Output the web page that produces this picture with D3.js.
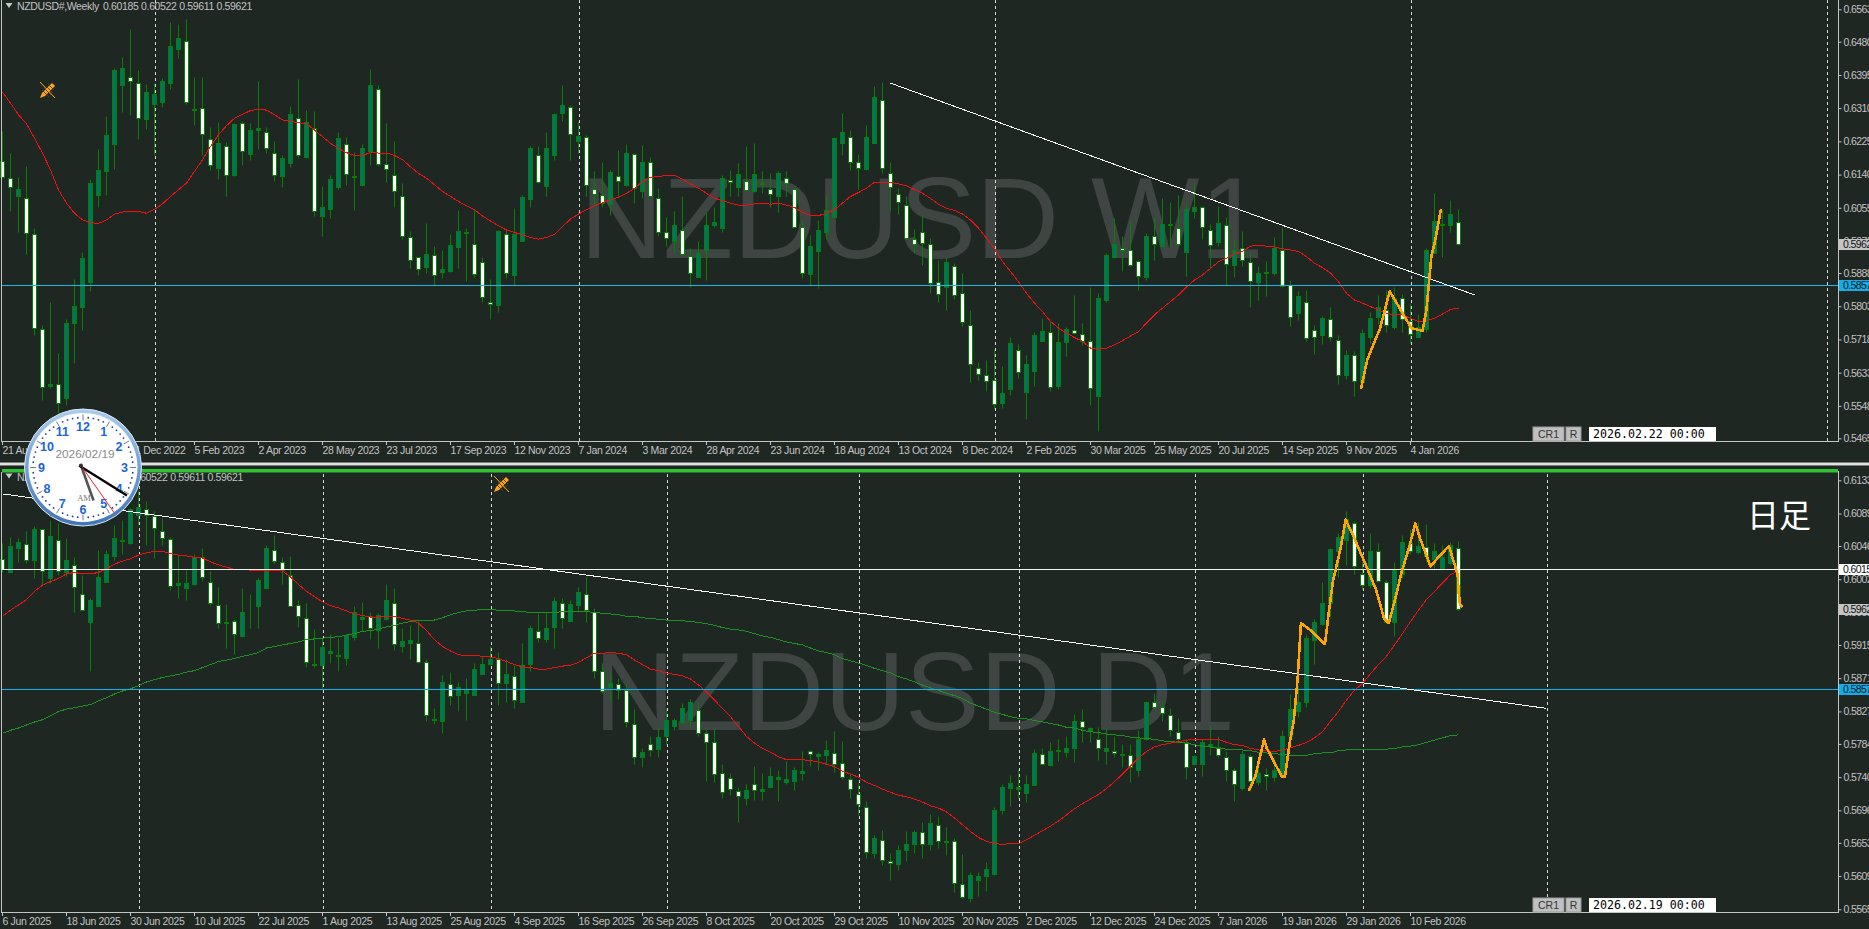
<!DOCTYPE html>
<html><head><meta charset="utf-8">
<script src="https://cdn.jsdelivr.net/npm/d3@7/dist/d3.min.js"></script>
<style>
html,body{margin:0;padding:0;background:#1f2723;overflow:hidden}
svg{display:block}
text{font-family:"Liberation Sans",Arial,sans-serif}
.lbl{font-size:10.5px;letter-spacing:-.35px;fill:#c2c2c2}
.plbl{font-size:10.5px;letter-spacing:-.6px;fill:#c2c2c2}
</style></head><body>
<script>
// all prices are in pips (price x 10000)
const wOpen=[6176,6131,6084,6079,5987,5746,5598,5603,5567,5760,5802,5864,6087,6150,6218,6370,6390,6375,6282,6320,6326,6375,6462,6483,6305,6311,6230,6156,6212,6138,6271,6192,6253,6248,6196,6136,6169,6286,6186,6258,6035,6053,6109,6219,6133,6113,6201,6360,6166,6140,6084,5981,5928,5903,5933,5890,5892,5954,5994,5963,5915,5815,5807,5989,5882,5969,6077,6189,6112,6191,6297,6314,6226,6235,6103,6088,6064,6137,6113,6192,6098,6173,6081,5992,5970,5998,5932,5879,5947,6010,6004,6125,6108,6124,6097,6117,6104,6084,6130,6103,6006,5885,5944,5994,6031,6222,6235,6171,6154,6222,6332,6145,6089,6063,5976,5994,5963,5864,5851,5907,5836,5756,5646,5628,5614,5555,5591,5692,5583,5636,5715,5738,5598,5711,5743,5733,5715,5574,5818,5930,5952,5946,5920,5879,5983,5958,6011,6002,5943,6048,6056,5999,5967,6010,5908,5953,5917,5864,5888,5889,5948,5858,5785,5814,5741,5729,5771,5717,5627,5677,5608,5724,5775,5794,5749,5823,5764,5725,5744,5939,6011,6010,6018];
const wClose=[6133,6108,6102,5990,5747,5596,5604,5555,5760,5803,5926,6118,6151,6241,6408,6412,6380,6284,6351,6346,6379,6468,6489,6325,6307,6243,6164,6220,6139,6270,6201,6253,6259,6208,6139,6182,6294,6190,6274,6047,6058,6128,6233,6141,6136,6207,6369,6166,6155,6098,5983,5922,5899,5936,5883,5898,5959,5995,5990,5885,5827,5808,5995,5888,5988,6082,6207,6120,6207,6294,6317,6243,6238,6114,6091,6068,6146,6124,6195,6105,6173,6085,5992,5977,6010,5937,5888,5939,6010,6018,6132,6120,6141,6101,6141,6119,6090,6143,6119,6007,5888,5956,5998,6050,6233,6248,6172,6156,6236,6338,6156,6108,6069,5977,5962,5964,5862,5835,5916,5832,5762,5655,5629,5612,5552,5582,5708,5635,5656,5729,5739,5596,5711,5744,5734,5714,5593,5824,5933,5962,5946,5909,5881,5982,5962,6013,6014,5962,6051,6056,6006,5960,6015,5911,5948,5922,5868,5889,5891,5952,5855,5776,5830,5722,5725,5772,5725,5627,5679,5612,5734,5774,5802,5755,5825,5771,5732,5751,5946,6020,6014,6038,5962];
const wHigh=[6252,6195,6135,6162,6003,5755,5813,5683,5771,5872,5941,6128,6205,6290,6412,6442,6513,6408,6372,6374,6387,6531,6526,6538,6389,6389,6263,6274,6224,6273,6276,6271,6380,6263,6225,6190,6316,6385,6306,6303,6111,6138,6248,6236,6199,6219,6410,6369,6271,6226,6118,5996,5930,6015,5958,5946,5988,6050,6003,6051,5930,5872,5998,6000,6054,6088,6212,6212,6248,6297,6369,6318,6277,6242,6148,6172,6152,6203,6219,6195,6216,6184,6105,6031,6047,6084,5952,5969,6045,6058,6139,6152,6169,6213,6220,6148,6143,6148,6150,6105,6026,5985,6024,6084,6236,6297,6254,6193,6267,6367,6378,6172,6105,6084,6000,6037,5977,5922,5930,5913,5888,5794,5660,5666,5693,5651,5725,5706,5679,5738,5772,5764,5760,5751,5832,5761,5852,5838,5939,6028,5983,6020,5922,5990,6031,6079,6071,6088,6067,6122,6060,6014,6060,6031,5973,5996,5941,5906,5919,5980,6007,5870,5842,5845,5755,5778,5801,5730,5691,5689,5745,5787,5832,5845,5852,5835,5812,5783,5952,6094,6051,6075,6052];
const wLow=[6133,6047,5994,5937,5730,5563,5593,5529,5551,5657,5741,5841,6056,6088,6154,6299,6293,6230,6256,6189,6312,6358,6438,6321,6267,6190,6152,6129,6084,6137,6165,6178,6206,6195,6124,6109,6160,6186,6182,6033,5984,6028,6103,6114,6050,6111,6165,6163,6120,6058,5975,5900,5883,5888,5858,5875,5891,5900,5868,5879,5815,5771,5787,5876,5858,5969,6058,6118,6084,6178,6278,6178,6195,6085,6062,6058,6037,6084,6111,6068,6079,6082,5984,5956,5939,5932,5852,5877,5870,6007,5992,6084,6084,6101,6095,6092,6056,6045,6084,6005,5876,5858,5849,5975,6028,6189,6152,6103,6152,6220,6143,6048,6039,5975,5939,5909,5836,5815,5794,5821,5753,5608,5613,5585,5540,5542,5576,5619,5515,5599,5715,5585,5592,5676,5734,5704,5551,5484,5815,5926,5892,5905,5845,5870,5922,5957,5956,5956,5881,6028,5975,5900,5956,5858,5879,5907,5800,5818,5830,5882,5852,5753,5768,5715,5681,5707,5713,5604,5616,5574,5593,5710,5757,5737,5744,5738,5710,5724,5738,5939,5928,5992,5961];
const wMA=[6351,6323,6293,6270,6233,6195,6152,6101,6067,6041,6024,6017,6015,6024,6039,6044,6046,6046,6041,6051,6065,6084,6101,6118,6148,6178,6212,6242,6265,6284,6294,6304,6307,6305,6293,6280,6276,6273,6270,6254,6237,6220,6207,6196,6189,6188,6197,6195,6195,6189,6178,6160,6143,6131,6114,6097,6084,6071,6060,6050,6034,6021,6009,5998,5992,5986,5979,5975,5979,5987,6007,6026,6039,6050,6060,6068,6075,6082,6092,6105,6122,6133,6135,6138,6138,6128,6116,6105,6092,6079,6073,6067,6062,6062,6065,6067,6064,6067,6062,6056,6043,6036,6035,6041,6050,6067,6084,6094,6105,6120,6120,6120,6116,6111,6102,6092,6079,6064,6054,6048,6039,6024,6003,5977,5951,5917,5892,5866,5836,5811,5789,5764,5747,5734,5723,5713,5696,5696,5696,5704,5715,5727,5738,5760,5781,5798,5815,5832,5852,5870,5883,5900,5917,5926,5937,5943,5957,5958,5957,5955,5950,5947,5943,5930,5913,5902,5888,5866,5836,5819,5811,5802,5794,5785,5781,5781,5772,5764,5766,5772,5783,5795,5798];
const wZigIdx=[169.8,170.6,172.2,173.4,174.9,176.1,177.5,178,178.6,179.1,179.8];
const wZigVal=[5591,5666,5747,5841,5789,5747,5740,5794,5930,5973,6051];
const wTrendIdx=[111,184];
const wTrendVal=[6374,5832];
const wLevels=[5857];
const wGrid=[19,72,124,176,228];
const wTicks=["21 Aug 2022","16 Oct 2022","11 Dec 2022","5 Feb 2023","2 Apr 2023","28 May 2023","23 Jul 2023","17 Sep 2023","12 Nov 2023","7 Jan 2024","3 Mar 2024","28 Apr 2024","23 Jun 2024","18 Aug 2024","13 Oct 2024","8 Dec 2024","2 Feb 2025","30 Mar 2025","25 May 2025","20 Jul 2025","14 Sep 2025","9 Nov 2025","4 Jan 2026"];
const wPrices=[6563,6480,6395,6310,6225,6140,6055,5970,5888,5803,5718,5633,5548,5465];

const dOpen=[6029,6012,6043,6048,6027,6068,6003,6054,6012,6021,5982,5945,5967,5999,6033,6052,6050,6087,6095,6086,6066,6055,5994,5991,5996,6031,5999,5968,5944,5947,5927,5966,5967,5991,6041,6025,6008,5968,5951,5890,5888,5905,5902,5898,5925,5950,5953,5935,5950,5971,5913,5918,5918,5893,5816,5814,5863,5849,5851,5849,5877,5890,5897,5864,5874,5839,5890,5934,5923,5939,5970,5947,5968,5982,5959,5880,5859,5863,5855,5811,5767,5784,5777,5794,5808,5813,5815,5829,5798,5786,5745,5739,5722,5712,5731,5721,5727,5737,5734,5735,5746,5774,5768,5769,5772,5759,5738,5718,5701,5640,5657,5629,5625,5643,5652,5667,5651,5676,5654,5656,5599,5580,5604,5609,5612,5696,5726,5724,5719,5730,5771,5756,5774,5773,5778,5814,5803,5791,5774,5775,5769,5769,5749,5791,5839,5833,5822,5800,5787,5758,5758,5781,5780,5767,5749,5725,5768,5734,5744,5740,5741,5794,5828,5840,5921,5943,5971,6040,6054,6076,6009,5994,6039,5999,5946,6009,6050,6038,6045,6029,6017,6023,6044];
const dClose=[6015,6046,6051,6027,6068,6013,6059,6013,6027,5992,5961,5975,6005,6036,6056,6054,6095,6097,6087,6070,6057,5993,5997,5997,6032,6005,5970,5944,5945,5930,5958,5967,6001,6044,6026,6014,5967,5953,5893,5888,5912,5907,5900,5928,5959,5952,5938,5954,5974,5916,5920,5921,5892,5822,5817,5866,5847,5859,5857,5883,5890,5896,5864,5876,5842,5889,5938,5924,5938,5973,5951,5969,5985,5961,5881,5854,5864,5855,5813,5766,5773,5776,5793,5815,5815,5831,5840,5798,5786,5744,5720,5724,5715,5723,5723,5724,5742,5740,5737,5750,5748,5770,5771,5776,5758,5740,5724,5704,5641,5660,5630,5626,5643,5652,5667,5652,5679,5655,5656,5600,5581,5611,5609,5618,5696,5727,5732,5727,5731,5772,5758,5774,5776,5778,5814,5806,5805,5778,5779,5772,5771,5754,5791,5839,5833,5825,5802,5790,5753,5768,5786,5784,5769,5750,5731,5770,5735,5745,5741,5750,5795,5830,5840,5924,5946,5971,6042,6058,6082,6019,5995,6040,6000,5946,6014,6051,6040,6046,6033,6039,6031,6047,5962];
const dHigh=[6050,6058,6057,6066,6072,6069,6081,6076,6056,6032,6008,5977,6041,6041,6074,6081,6096,6120,6106,6092,6083,6058,6034,6014,6035,6043,6013,5992,5969,5950,5990,5983,6003,6047,6060,6031,6033,5975,5970,5936,5926,5930,5924,5930,5967,5972,5958,5957,5996,5990,5937,5942,5947,5897,5831,5875,5879,5866,5871,5891,5900,5913,5906,5897,5889,5917,5941,5957,5959,5979,5977,5975,5992,6005,5964,5891,5880,5871,5864,5830,5778,5795,5807,5831,5818,5838,5844,5841,5803,5805,5757,5745,5727,5731,5755,5745,5753,5750,5761,5754,5775,5776,5773,5789,5801,5788,5745,5734,5708,5664,5670,5640,5650,5669,5670,5681,5691,5688,5674,5659,5638,5614,5615,5628,5701,5731,5743,5751,5743,5777,5778,5787,5791,5795,5823,5830,5807,5807,5806,5794,5784,5784,5802,5841,5852,5842,5832,5818,5791,5769,5791,5809,5794,5774,5752,5776,5770,5754,5752,5765,5803,5850,5860,5930,5950,5999,6043,6063,6092,6079,6025,6063,6050,6001,6025,6060,6069,6078,6075,6050,6047,6051,6053];
const dLow=[6012,6011,6025,6023,6004,5994,5997,6008,6006,5958,5961,5881,5966,5998,6028,6036,6049,6074,6047,6030,6047,5988,5977,5975,5994,6000,5968,5937,5911,5903,5925,5938,5938,5989,6024,5996,5966,5939,5886,5886,5857,5891,5880,5889,5921,5933,5923,5911,5948,5908,5906,5897,5891,5814,5810,5799,5836,5827,5816,5849,5877,5889,5836,5839,5832,5839,5881,5919,5919,5911,5937,5947,5959,5946,5871,5852,5841,5844,5807,5758,5753,5768,5767,5784,5803,5811,5807,5795,5735,5733,5713,5716,5681,5703,5710,5710,5726,5708,5731,5723,5736,5755,5750,5757,5747,5738,5712,5690,5633,5633,5624,5604,5617,5629,5639,5633,5644,5646,5637,5588,5580,5575,5582,5589,5611,5691,5702,5712,5707,5729,5756,5755,5761,5766,5760,5787,5786,5763,5757,5766,5753,5734,5742,5789,5830,5814,5794,5787,5738,5756,5741,5769,5767,5735,5709,5723,5721,5729,5723,5735,5740,5792,5819,5833,5890,5942,5952,6005,6021,6009,5989,5991,5998,5944,5927,6003,6036,6036,6025,6014,6016,6021,5961];
const dMA=[5953,5961,5968,5975,5986,5994,5999,6003,6009,6011,6009,6009,6011,6016,6022,6026,6029,6034,6037,6039,6039,6036,6034,6033,6031,6030,6025,6021,6018,6015,6015,6014,6014,6014,6014,6013,6005,5995,5986,5979,5972,5967,5964,5960,5956,5954,5952,5952,5953,5953,5950,5948,5944,5934,5922,5913,5907,5902,5901,5901,5900,5899,5897,5893,5889,5886,5885,5883,5883,5885,5887,5888,5892,5898,5904,5904,5905,5904,5902,5895,5889,5883,5881,5878,5876,5874,5870,5862,5853,5842,5831,5820,5807,5794,5785,5778,5773,5767,5763,5763,5763,5762,5760,5757,5754,5748,5744,5740,5733,5729,5724,5720,5716,5714,5711,5707,5702,5699,5694,5686,5677,5668,5660,5655,5652,5651,5652,5652,5657,5663,5669,5675,5682,5690,5698,5705,5711,5717,5725,5734,5744,5755,5765,5774,5780,5783,5785,5787,5789,5790,5790,5790,5790,5786,5783,5782,5778,5776,5775,5774,5776,5779,5782,5786,5792,5800,5814,5827,5842,5855,5864,5877,5889,5900,5915,5930,5946,5961,5975,5986,5997,6008,6013];
const dMA2=[5798,5802,5805,5809,5813,5816,5821,5827,5830,5832,5834,5836,5841,5845,5850,5854,5857,5861,5866,5869,5872,5874,5876,5879,5881,5885,5889,5893,5895,5897,5900,5902,5905,5911,5913,5915,5917,5919,5922,5923,5924,5925,5926,5928,5930,5933,5934,5936,5939,5941,5944,5946,5948,5948,5948,5951,5955,5958,5960,5961,5962,5962,5961,5961,5960,5959,5958,5958,5958,5958,5959,5959,5959,5959,5958,5957,5956,5955,5953,5953,5951,5950,5949,5948,5947,5947,5946,5945,5943,5941,5938,5936,5935,5933,5930,5927,5925,5922,5919,5917,5915,5911,5907,5905,5902,5897,5894,5891,5888,5884,5881,5878,5873,5870,5866,5862,5858,5855,5851,5848,5844,5838,5834,5830,5826,5823,5820,5818,5817,5815,5813,5811,5809,5806,5805,5802,5800,5799,5797,5796,5795,5793,5792,5791,5790,5788,5787,5786,5785,5783,5781,5780,5778,5777,5777,5776,5775,5773,5772,5771,5770,5769,5768,5769,5771,5772,5772,5775,5776,5776,5776,5777,5777,5777,5778,5780,5781,5783,5786,5789,5792,5795,5796];
const dZigIdx=[155.8,156.6,157.7,158,158.7,159.9,160.3,160.9,161.4,161.9,162.3,163.7,165.3,165.8,166.3,167.3,167.9,169,170.6,171.7,172.7,173.3,174.2,174.9,175.9,176.6,177.2,178.5,179.4,180.8,181.9,182,182.2,182.5];
const dZigVal=[5722,5741,5790,5779,5765,5741,5740,5785,5814,5871,5944,5933,5916,5959,5999,6045,6081,6056,6016,5988,5950,5944,5981,6012,6047,6076,6056,6019,6030,6046,6008,5986,5968,5965];
const dTrendIdx=[0,193];
const dTrendVal=[6115,5831];
const dGrid=[17,40,61,83,107,127,149,170,193];
const dTicks=["6 Jun 2025","18 Jun 2025","30 Jun 2025","10 Jul 2025","22 Jul 2025","1 Aug 2025","13 Aug 2025","25 Aug 2025","4 Sep 2025","16 Sep 2025","26 Sep 2025","8 Oct 2025","20 Oct 2025","29 Oct 2025","10 Nov 2025","20 Nov 2025","2 Dec 2025","12 Dec 2025","24 Dec 2025","7 Jan 2026","19 Jan 2026","29 Jan 2026","10 Feb 2026"];
const dPrices=[6133,6089,6046,6002,5958,5915,5871,5827,5784,5740,5696,5653,5609,5565];
const clockHours=[12,1,2,3,4,5,6,7,8,9,10,11];
const clockDate="2026/02/19";

const BG="#1f2723",GREEN="#058005",TEAL="#00755f",FRAME="#c4c4c4";
const W=1869,H=929,RIGHT=1838;
const svg=d3.select("body").append("svg").attr("width",W).attr("height",H);
svg.append("rect").attr("width",W).attr("height",H).attr("fill",BG);
const x=d3.scaleLinear().domain([0,1]).range([2.5,10.5]);
const fmtP=d=>(d/1e4).toFixed(4);
const lineGen=(y,xs)=>d3.line().x((d,i)=>x(xs?xs[i]:i)).y(d=>y(d));

function panel(c){
  const g=svg.append("g");
  const y=d3.scaleLinear().domain(c.domain).range(c.range);
  const r=v=>Math.round(y(v))+.5;
  g.append("text").text(c.mark).attr("x",c.markX).attr("y",c.markY)
    .attr("font-size",c.markSize).attr("fill","#3f4543").style("font-family","'Liberation Sans',Arial");
  g.append("g").selectAll("line").data(c.grid).join("line")
    .attr("x1",d=>Math.round(x(d))+.5).attr("x2",d=>Math.round(x(d))+.5)
    .attr("y1",c.top).attr("y2",c.bottom).attr("stroke","#d8d8d8").attr("stroke-dasharray","3,3");
  const cg=g.append("g");
  const n=c.open.length;
  cg.selectAll("line").data(d3.range(n)).join("line")
    .attr("x1",i=>x(i)).attr("x2",i=>x(i))
    .attr("y1",i=>r(c.high[i])).attr("y2",i=>r(c.low[i]))
    .attr("stroke",GREEN);
  cg.selectAll("rect").data(d3.range(n)).join("rect")
    .attr("x",i=>x(i)-2).attr("width",4)
    .attr("y",i=>Math.min(r(c.open[i]),r(c.close[i])))
    .attr("height",i=>Math.abs(r(c.open[i])-r(c.close[i])))
    .attr("fill",i=>c.close[i]>=c.open[i]?TEAL:"#ffffff")
    .attr("stroke",GREEN).attr("shape-rendering","crispEdges");
  const crisp=p=>p.attr("fill","none").attr("shape-rendering","crispEdges");
  if(c.ma2) crisp(g.append("path").attr("d",lineGen(y)(c.ma2)).attr("stroke","#1f8f1f"));
  crisp(g.append("path").attr("d",lineGen(y)(c.ma)).attr("stroke","#f01010"));
  (c.levels||[]).forEach(l=>g.append("line").attr("x1",2).attr("x2",RIGHT).attr("y1",r(l.v)).attr("y2",r(l.v)).attr("stroke",l.color));
  crisp(g.append("path").attr("d",lineGen(y,c.trendIdx)(c.trendVal)).attr("stroke","#ffffff"));
  crisp(g.append("path").attr("d",lineGen(y,c.zigIdx)(c.zigVal)).attr("stroke","#ffa500").attr("stroke-width",2.6).attr("stroke-linejoin","round"));
  // frame
  g.append("line").attr("x1",1.5).attr("x2",1.5).attr("y1",c.top-2).attr("y2",c.bottom).attr("stroke",FRAME);
  g.append("line").attr("x1",1).attr("x2",RIGHT).attr("y1",c.bottom+.5).attr("y2",c.bottom+.5).attr("stroke",FRAME);
  // price axis
  const ay=d3.axisRight(y).tickValues(c.prices).tickFormat(fmtP).tickSize(3).tickPadding(2);
  const ag=g.append("g").attr("transform",`translate(${RIGHT+.5},0)`).call(ay);
  ag.select(".domain").attr("stroke",FRAME).attr("d",`M0,${c.top-3}V${c.bottom+1}`);
  ag.selectAll(".tick line").attr("stroke",FRAME);
  ag.selectAll("text").attr("class","plbl");
  ag.attr("font-family",null).attr("font-size",null);
  // time axis
  const tx=d3.scaleLinear().domain([0,1]).range([2,66]);
  const tg=g.append("g");
  tg.selectAll("line").data(c.ticks).join("line")
    .attr("x1",(d,i)=>tx(i)+.5).attr("x2",(d,i)=>tx(i)+.5).attr("y1",c.bottom+1).attr("y2",c.bottom+4).attr("stroke",FRAME);
  tg.selectAll("text").data(c.ticks).join("text").attr("class","lbl")
    .attr("x",(d,i)=>tx(i)+.5).attr("y",c.bottom+13).text(d=>d);
  // price tags
  c.tags.forEach(t=>{
    g.append("rect").attr("x",RIGHT+1).attr("y",r(t.v)-5.5).attr("width",W-RIGHT).attr("height",11).attr("fill",t.bg);
    g.append("text").attr("class","plbl").attr("x",RIGHT+5).attr("y",r(t.v)+3.5).attr("style","fill:#111").text(fmtP(t.v));
  });
  // title
  g.append("path").attr("d",`M5.5,${c.titleY-3}h7l-3.5,5z`).attr("fill","#c8c8c8");
  g.append("text").attr("class","lbl").attr("x",17).attr("y",c.titleY+4).text(c.title);
  g.append("text").attr("class","lbl").attr("x",c.ohlcX).attr("y",c.titleY+4).text("0.60185 0.60522 0.59611 0.59621");
  // buttons
  const by=c.bottom-14;
  [[1533,31,"CR1"],[1566,15,"R"]].forEach(b=>{
    g.append("rect").attr("x",b[0]).attr("y",by).attr("width",b[1]).attr("height",14).attr("fill","#c0c0c0").attr("stroke","#9a9a9a");
    g.append("text").attr("x",b[0]+b[1]/2).attr("y",by+11).attr("text-anchor","middle").attr("font-size",10.5).attr("fill","#333").text(b[2]);
  });
  g.append("rect").attr("x",1589).attr("y",by).attr("width",127).attr("height",14).attr("fill","#fff");
  g.append("text").attr("x",1593).attr("y",by+11).style("font-family","'DejaVu Sans Mono',monospace").attr("font-size",11.6).attr("fill","#000").text(c.stamp);
  // tool icon
  const ic=g.append("g").attr("transform",`translate(${c.icon})`).attr("fill","none").attr("stroke","#ffa51a");
  ic.append("path").attr("d","M-7,-8L8,8");
  ic.append("path").attr("d","M5,-7L-5,3L-7,8L-2,6L8,-4Z").attr("fill","#ffa51a").attr("stroke","none");
  ic.append("path").attr("d","M-3,-2L4,5M-1,-4L6,3M1,-6L7,0M-5,0L2,7").attr("stroke","#5a3f12");
}

panel({open:wOpen,close:wClose,high:wHigh,low:wLow,ma:wMA,zigIdx:wZigIdx,zigVal:wZigVal,trendIdx:wTrendIdx,trendVal:wTrendVal,
  domain:[5465,6563],range:[438.3,9.3],top:0,bottom:441,grid:wGrid,ticks:wTicks,prices:wPrices,
  levels:[{v:wLevels[0],color:"#22b6e6"}],tags:[{v:5962,bg:"#c4c4c4"},{v:5857,bg:"#12aeea"}],
  mark:"NZDUSD W1",markX:580,markY:258,markSize:115,title:"NZDUSD#,Weekly",ohlcX:103,titleY:6,stamp:"2026.02.22 00:00",icon:[47,90]});

// separators between the two windows
svg.append("rect").attr("x",0).attr("y",462.5).attr("width",W).attr("height",3).attr("fill","#cfcfcf");
svg.append("rect").attr("x",0).attr("y",463.5).attr("width",W).attr("height",1).attr("fill","#f4f4f4");
svg.append("rect").attr("x",2).attr("y",469).attr("width",RIGHT-2).attr("height",3.5).attr("fill","#32c332");

panel({open:dOpen,close:dClose,high:dHigh,low:dLow,ma:dMA,ma2:dMA2,zigIdx:dZigIdx,zigVal:dZigVal,trendIdx:dTrendIdx,trendVal:dTrendVal,
  domain:[5565,6133],range:[909.3,480.3],top:474,bottom:912,grid:dGrid,ticks:dTicks,prices:dPrices,
  levels:[{v:6015,color:"#f2f2f2"},{v:5857,color:"#10b4f0"}],
  tags:[{v:6015,bg:"#ffffff"},{v:5962,bg:"#c4c4c4"},{v:5857,bg:"#12aeea"}],
  mark:"NZDUSD D1",markX:594,markY:730,markSize:112,title:"NZDUSD#,Daily",ohlcX:94,titleY:476.5,stamp:"2026.02.19 00:00",icon:[501,484]});

svg.append("text").attr("x",1747).attr("y",526.5).attr("font-size",32).attr("fill","#fff")
  .style("font-family","'Noto Sans CJK JP'").text("日足");

// desktop clock widget
const defs=svg.append("defs");
const rg=defs.append("linearGradient").attr("id","ring").attr("x1",0).attr("y1",0).attr("x2",0).attr("y2",1);
rg.append("stop").attr("offset",0).attr("stop-color","#a9cdf0");
rg.append("stop").attr("offset",1).attr("stop-color","#3f74b8");
const ck=svg.append("g").attr("transform","translate(83,467.5)");
ck.append("circle").attr("r",58.5).attr("fill","url(#ring)").attr("stroke","#dfe9f5");
ck.append("circle").attr("r",54.5).attr("fill","#ffffff");
const ang=d3.scaleLinear().domain([0,60]).range([0,2*Math.PI]);
ck.selectAll("circle.dot").data(d3.range(60).filter(m=>m%5)).join("circle").attr("class","dot")
  .attr("cx",m=>50*Math.sin(ang(m))).attr("cy",m=>-50*Math.cos(ang(m))).attr("r",.9).attr("fill","#1d3f86");
ck.selectAll("line.tk").data(d3.range(0,60,5)).join("line").attr("class","tk")
  .attr("x1",m=>47*Math.sin(ang(m))).attr("y1",m=>-47*Math.cos(ang(m)))
  .attr("x2",m=>53*Math.sin(ang(m))).attr("y2",m=>-53*Math.cos(ang(m))).attr("stroke","#6a7a92");
ck.selectAll("text.hr").data(clockHours).join("text").attr("class","hr")
  .attr("x",(h,i)=>41.5*Math.sin(ang(i*5))).attr("y",(h,i)=>-41.5*Math.cos(ang(i*5))+4.5)
  .attr("text-anchor","middle").attr("font-size",12.5).attr("font-weight",700).attr("fill","#1a66d6").text(h=>h);
ck.append("text").attr("x",2).attr("y",-9.5).attr("text-anchor","middle").attr("font-size",11.8).attr("fill","#8a8a8a").text(clockDate);
ck.append("text").attr("x",1).attr("y",33).attr("text-anchor","middle").attr("font-size",8.5).attr("fill","#777").style("font-family","'Liberation Serif',serif").text("AM");
const pivot=[-2,-2];
ck.append("line").attr("x1",pivot[0]).attr("y1",pivot[1]).attr("x2",10.5).attr("y2",33).attr("stroke","#555").attr("stroke-width",2.6);
ck.append("line").attr("x1",pivot[0]-2).attr("y1",pivot[1]).attr("x2",44).attr("y2",28).attr("stroke","#000").attr("stroke-width",2.2);
ck.append("line").attr("x1",pivot[0]).attr("y1",pivot[1]).attr("x2",31).attr("y2",45).attr("stroke","#f02030").attr("stroke-width",1);
ck.append("circle").attr("cx",pivot[0]).attr("cy",pivot[1]).attr("r",2).attr("fill","#333");
</script>
</body></html>
